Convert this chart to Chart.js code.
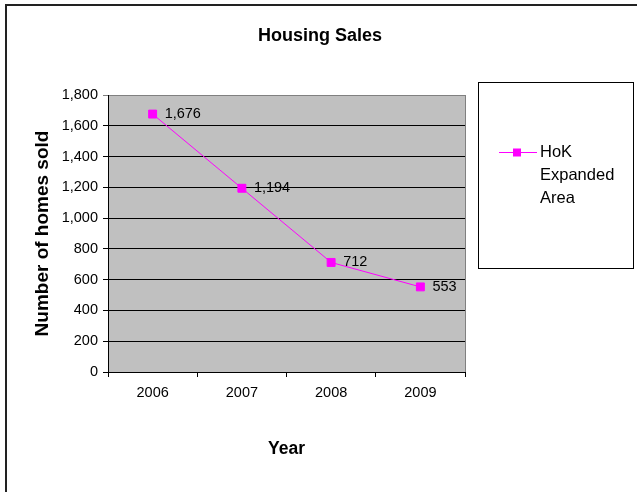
<!DOCTYPE html>
<html>
<head>
<meta charset="utf-8">
<script src="https://cdn.jsdelivr.net/npm/chart.js@4"></script>
<style>
  html, body { margin: 0; padding: 0; background: #fff; }
  #wrap { width: 637px; height: 492px; }
</style>
</head>
<body>
<div id="wrap"><canvas id="myChart" width="637" height="492"></canvas></div>
<script>
const years = ['2006', '2007', '2008', '2009'];
const homesSold = [1676, 1194, 712, 553];
const seriesName = ['HoK', 'Expanded', 'Area']; // legend text, one line each
const chartTitle = 'Housing Sales';

const FONT = "Arial, 'Liberation Sans', sans-serif";
const PINK = '#FF00FF';

// gray plot background + gray frame, outer chart border, centred title
const plotBackground = {
    id: 'plotBackground',
    beforeDraw(chart) {
        const {ctx, chartArea: a} = chart;
        ctx.save();
        ctx.fillStyle = '#C0C0C0';
        ctx.fillRect(a.left, a.top, a.right - a.left, a.bottom - a.top);
        ctx.strokeStyle = '#808080';
        ctx.lineWidth = 1;
        ctx.strokeRect(a.left + 0.5, a.top + 0.5, a.right - a.left, a.bottom - a.top);
        // outer border (only top and left visible in the picture)
        ctx.strokeStyle = '#222';
        ctx.lineWidth = 2;
        ctx.beginPath();
        ctx.moveTo(637, 5);
        ctx.lineTo(6, 5);
        ctx.lineTo(6, 492);
        ctx.stroke();
        // title, centred on the whole chart
        ctx.fillStyle = '#000';
        ctx.font = 'bold 18px ' + FONT;
        ctx.textAlign = 'center';
        ctx.textBaseline = 'middle';
        ctx.fillText(chartTitle, 320, 36);
        ctx.restore();
    }
};

// value labels to the right of each point
const valueLabels = {
    id: 'valueLabels',
    afterDatasetsDraw(chart) {
        const {ctx} = chart;
        const meta = chart.getDatasetMeta(0);
        ctx.save();
        ctx.font = '14.5px ' + FONT;
        ctx.fillStyle = '#000';
        ctx.textAlign = 'left';
        ctx.textBaseline = 'middle';
        meta.data.forEach((pt, i) => {
            ctx.fillText(homesSold[i].toLocaleString('en-US'), pt.x + 12, pt.y);
        });
        ctx.restore();
    }
};

// boxed legend on the right
const boxLegend = {
    id: 'boxLegend',
    afterDraw(chart) {
        const {ctx} = chart;
        const ds = chart.data.datasets[0];
        ctx.save();
        ctx.strokeStyle = '#000';
        ctx.lineWidth = 1;
        ctx.strokeRect(478.5, 82.5, 155, 186);
        const y = 152;
        ctx.strokeStyle = ds.borderColor;
        ctx.beginPath();
        ctx.moveTo(499, y + 0.5);
        ctx.lineTo(537, y + 0.5);
        ctx.stroke();
        ctx.fillStyle = ds.pointBackgroundColor;
        ctx.fillRect(513, y - 3.5, 8, 8);
        ctx.fillStyle = '#000';
        ctx.font = '16.5px ' + FONT;
        ctx.textBaseline = 'middle';
        seriesName.forEach((t, i) => ctx.fillText(t, 540, y + i * 23));
        ctx.restore();
    }
};

const config = {
    type: 'line',
    data: {
        labels: years,
        datasets: [{
            label: seriesName.join(' '),
            data: homesSold,
            borderColor: PINK,
            backgroundColor: PINK,
            pointBackgroundColor: PINK,
            pointBorderColor: PINK,
            borderWidth: 1,
            pointStyle: 'rect',
            pointRadius: 5.6,
            pointHoverRadius: 5.6,
            tension: 0
        }]
    },
    options: {
        responsive: false,
        animation: false,
        events: [],
        layout: { padding: { left: 0, right: 172, top: 95, bottom: 0 } },
        plugins: {
            legend: { display: false },
            tooltip: { enabled: false },
            title: { display: false }
        },
        scales: {
            x: {
                type: 'category',
                offset: true,
                afterFit(scale) { scale.height = 120; },
                grid: {
                    offset: true,
                    drawOnChartArea: false,
                    drawTicks: true,
                    tickLength: 5,
                    color: '#000'
                },
                border: { color: '#000', width: 1 },
                ticks: { color: '#000', padding: 7, font: { family: FONT, size: 14.5 }, maxRotation: 0 },
                title: {
                    display: true,
                    text: 'Year',
                    color: '#000',
                    font: { family: FONT, size: 17.5, weight: 'bold' },
                    padding: { top: 0, bottom: 32 }
                }
            },
            y: {
                min: 0,
                max: 1800,
                afterFit(scale) { scale.width = 108; },
                grid: {
                    color: ctx => ctx.tick && ctx.tick.value === 1800 ? '#808080' : '#000',
                    tickLength: 5,
                    drawTicks: true
                },
                border: { color: '#000', width: 1 },
                ticks: {
                    stepSize: 200,
                    color: '#000',
                    padding: 5,
                    font: { family: FONT, size: 14.5 },
                    callback: v => v.toLocaleString('en-US')
                },
                title: {
                    display: true,
                    text: 'Number of homes sold',
                    color: '#000',
                    font: { family: FONT, size: 19, weight: 'bold' },
                    padding: { top: 31, bottom: 0 }
                }
            }
        }
    },
    plugins: [plotBackground, valueLabels, boxLegend]
};

const ctx = document.getElementById('myChart').getContext('2d');
const myChart = new Chart(ctx, config);
</script>
</body>
</html>
